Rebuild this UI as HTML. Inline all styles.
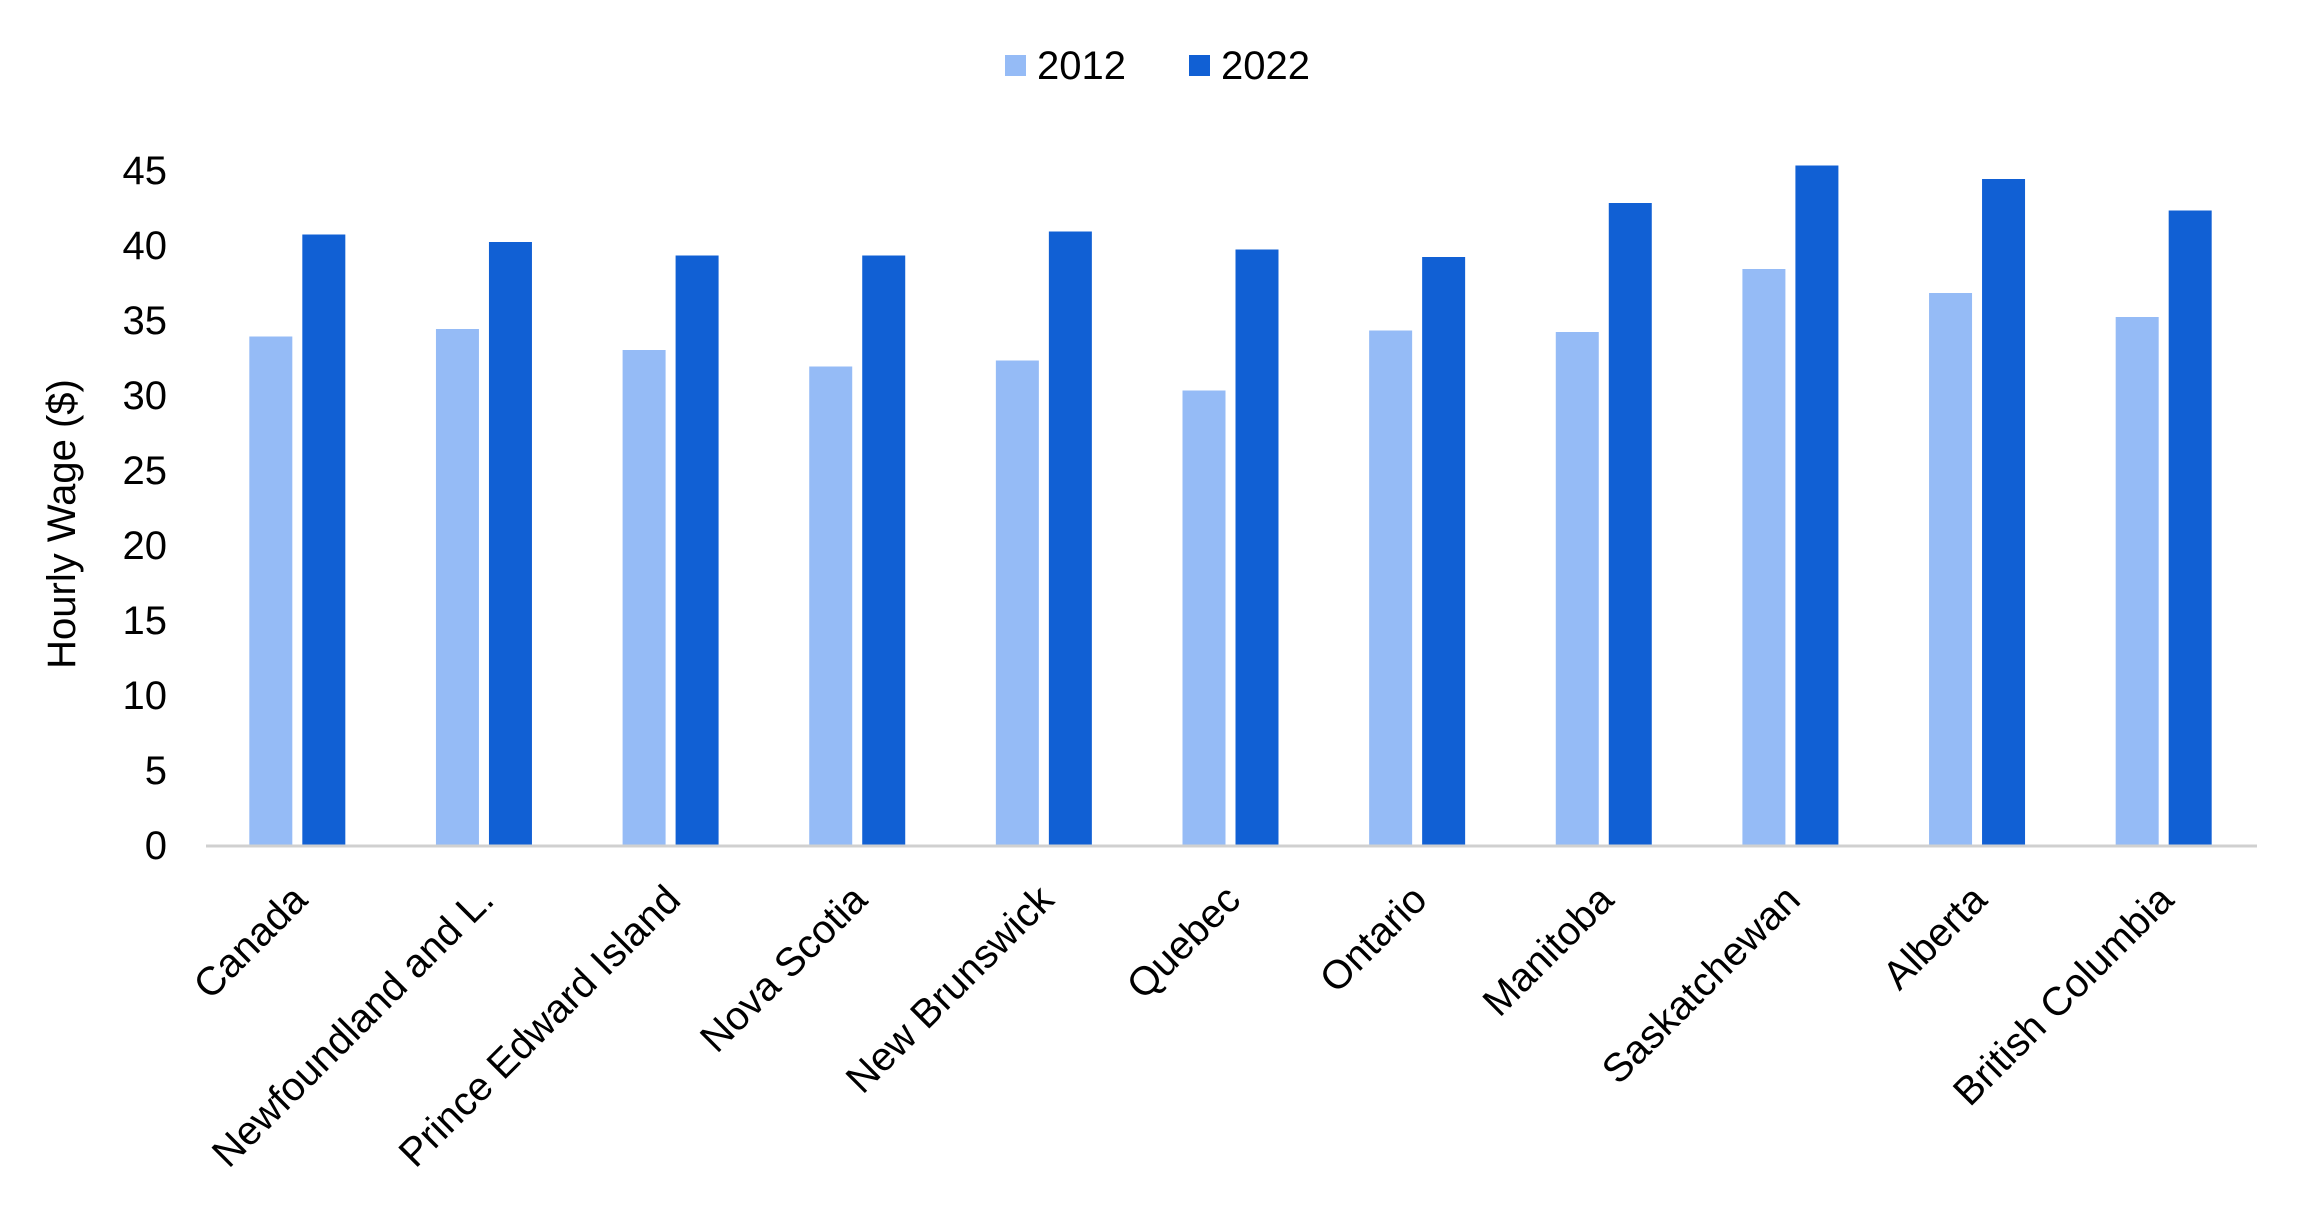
<!DOCTYPE html>
<html><head><meta charset="utf-8"><style>
body{margin:0;background:#fff}
svg{display:block;font-family:"Liberation Sans",Arial,sans-serif}
</style></head><body>
<svg id="chart" width="2310" height="1210" viewBox="0 0 2310 1210">
<g id="legend">
<rect x="1005" y="55" width="21" height="21" fill="#95bbf6"/>
<text x="1037" y="79" font-size="40" fill="#000">2012</text>
<rect x="1189" y="55" width="21" height="21" fill="#1160d4"/>
<text x="1221" y="79" font-size="40" fill="#000">2022</text>
</g>
<text transform="translate(75,524) rotate(-90)" text-anchor="middle" font-size="40" fill="#000">Hourly Wage ($)</text>
<g id="yticks"></g><g id="bars"></g><g id="xlabels"></g>
<line x1="206" y1="846" x2="2257" y2="846" stroke="#d0d0d0" stroke-width="3"/>
</svg>
<script>
const categories=["Canada","Newfoundland and L.","Prince Edward Island","Nova Scotia","New Brunswick","Quebec","Ontario","Manitoba","Saskatchewan","Alberta","British Columbia"];
const values2012=[33.9,34.4,33.0,31.9,32.3,30.3,34.3,34.2,38.4,36.8,35.2];
const values2022=[40.7,40.2,39.3,39.3,40.9,39.7,39.2,42.8,45.3,44.4,42.3];
const yTicks=[0,5,10,15,20,25,30,35,40,45];
const NS="http://www.w3.org/2000/svg";
const x0=204,x1=2257,yBase=845,yTop=170,yMax=45;
function yScale(v){return yBase-(yBase-yTop)*v/yMax;}
const band=(x1-x0)/categories.length;
function xCenter(i){return x0+band*(i+0.5);}
const yt=document.getElementById('yticks');
yTicks.forEach(t=>{
 const el=document.createElementNS(NS,'text');
 el.setAttribute('x',167);el.setAttribute('y',yScale(t)+14);
 el.setAttribute('text-anchor','end');el.setAttribute('font-size','40');
 el.textContent=t;
 
 
 yt.appendChild(el);
});
const bars=document.getElementById('bars');
const bw=43;
function addBar(x,v,color,name){
 const r=document.createElementNS(NS,'rect');
 r.setAttribute('x',x);r.setAttribute('y',yScale(v));
 r.setAttribute('width',bw);r.setAttribute('height',yBase-yScale(v));
 r.setAttribute('fill',color);
 
 
 bars.appendChild(r);
}
const xl=document.getElementById('xlabels');
categories.forEach((c,i)=>{
 const cx=xCenter(i);
 addBar(cx-48,values2012[i],'#95bbf6','bar-2012');
 addBar(cx+5,values2022[i],'#1160d4','bar-2022');
 const t=document.createElementNS(NS,'text');
 const ax=cx+12,ay=902;
 t.setAttribute('x',ax);t.setAttribute('y',ay);
 t.setAttribute('text-anchor','end');t.setAttribute('font-size','40');
 t.setAttribute('transform','rotate(-45 '+ax+' '+ay+')');
 t.textContent=c;
 
 
 xl.appendChild(t);
});
</script>
</body></html>
